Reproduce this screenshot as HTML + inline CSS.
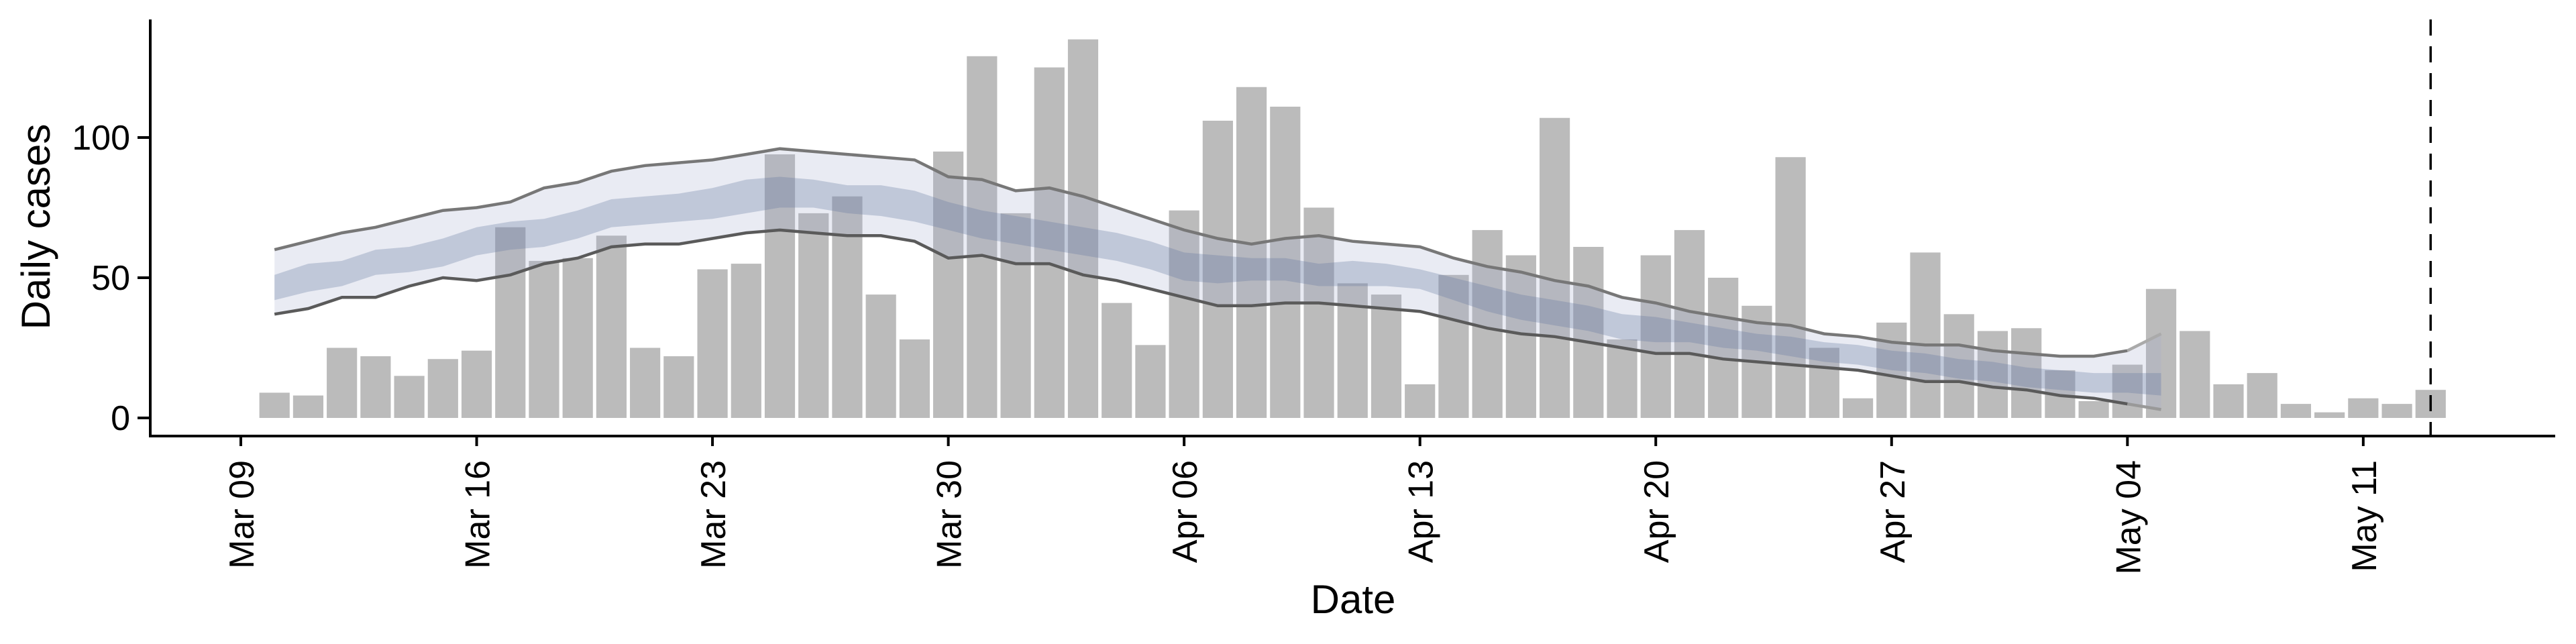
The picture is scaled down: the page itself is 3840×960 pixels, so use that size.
<!DOCTYPE html>
<html><head><meta charset="utf-8">
<style>
html,body{margin:0;padding:0;background:#fff;}
svg{display:block;font-family:"Liberation Sans",Arial,sans-serif;}
</style></head>
<body>
<svg id="chart" width="3840" height="960" viewBox="0 0 3840 960" xmlns="http://www.w3.org/2000/svg"></svg>
<script>
// ---- data ----
const barStartDay = 1; // Mar 10 (day 0 = Mar 09)
const dailyCases = [9,8,25,22,15,21,24,68,56,57,65,25,22,53,55,94,73,79,44,28,95,129,
  73,125,135,41,26,74,106,118,111,75,48,44,12,51,67,58,107,61,28,58,67,50,40,93,25,7,34,59,37,31,
  32,17,6,19,46,31,12,16,5,2,7,5,10];
const bandStartDay = 1;
const outerUpper = [60,63,66,68,71,74,75,77,82,84,88,90,91,92,94,96,95,94,93,92,86,85,
  81,82,79,75,71,67,64,62,64,65,63,62,61,57,54,52,49,47,43,41,38,36,34,33,30,29,27,26,26,24,
  23,22,22,24,30];
const outerLower = [37,39,43,43,47,50,49,51,55,57,61,62,62,64,66,67,66,65,65,63,57,58,
  55,55,51,49,46,43,40,40,41,41,40,39,38,35,32,30,29,27,25,23,23,21,20,19,18,17,15,13,13,11,
  10,8,7,5,3];
const innerUpper = [51,55,56,60,61,64,68,70,71,74,78,79,80,82,85,86,85,83,83,81,77,74,
  72,70,68,66,63,59,58,57,57,55,56,55,53,50,47,44,42,40,37,36,34,32,30,29,27,26,24,23,21,20,
  18,17,16,16,16];
const innerLower = [42,45,47,51,52,54,58,60,61,64,68,69,70,71,73,75,75,73,72,70,67,64,
  62,60,58,56,53,49,48,49,49,47,47,47,46,42,38,35,33,31,28,27,27,25,24,22,20,19,17,16,14,13,
  11,10,9,9,8];
const xTickDays = [0,7,14,21,28,35,42,49,56,63];
const xTickLabels = ["Mar 09","Mar 16","Mar 23","Mar 30","Apr 06","Apr 13","Apr 20","Apr 27","May 04","May 11"];
const yTicks = [0,50,100];
const cutoffDay = 65;

// ---- scales ----
const X0 = 359, DX = 50.22;
const Y0 = 623, DY = 4.18;
const x = d => X0 + d*DX;
const y = v => Y0 - v*DY;
const NS = "http://www.w3.org/2000/svg";
const svg = document.getElementById('chart');
function mk(tag, attrs, parent){
  const e = document.createElementNS(NS, tag);
  for (const k in attrs) e.setAttribute(k, attrs[k]);
  (parent||svg).appendChild(e);
  return e;
}

// bars
const gBars = mk('g', {});


dailyCases.forEach((v,i)=>{
  const d = barStartDay + i;
  const w = DX*0.9;
  const r = mk('rect', {x: x(d)-w/2, y: y(v), width: w, height: y(0)-y(v), fill:'#bbbbbb'}, gBars);
  
  
});

function bandPath(hi, lo){
  let p = '';
  hi.forEach((v,i)=>{ p += (i?'L':'M') + x(bandStartDay+i).toFixed(1) + ',' + y(v).toFixed(1); });
  for (let i=lo.length-1;i>=0;i--) p += 'L' + x(bandStartDay+i).toFixed(1) + ',' + y(lo[i]).toFixed(1);
  return p + 'Z';
}
function linePath(arr, n){
  return arr.slice(0, n).map((v,i)=>(i?'L':'M') + x(bandStartDay+i).toFixed(1) + ',' + y(v).toFixed(1)).join('');
}
function tailPath(arr){
  const n = arr.length;
  return 'M' + x(bandStartDay+n-2).toFixed(1) + ',' + y(arr[n-2]).toFixed(1) + 'L' + x(bandStartDay+n-1).toFixed(1) + ',' + y(arr[n-1]).toFixed(1);
}
const outer = mk('path', {d: bandPath(outerUpper, outerLower), fill:'rgba(165,172,205,0.24)'});


const inner = mk('path', {d: bandPath(innerUpper, innerLower), fill:'rgba(100,120,160,0.30)'});


const up = mk('path', {d: linePath(outerUpper, outerUpper.length-1), fill:'none', stroke:'#777', 'stroke-width':4.5});


const upT = mk('path', {d: tailPath(outerUpper), fill:'none', stroke:'#aaa', 'stroke-width':4.5});


const lo = mk('path', {d: linePath(outerLower, outerLower.length-1), fill:'none', stroke:'#5a5a5a', 'stroke-width':4.5});


const loT = mk('path', {d: tailPath(outerLower), fill:'none', stroke:'#999', 'stroke-width':4.5});



// cutoff line
const cut = mk('line', {x1:x(cutoffDay), x2:x(cutoffDay), y1:29, y2:650, stroke:'#000', 'stroke-width':3.5, 'stroke-dasharray':'24 16'});



// axes
const yAxis = mk('line', {x1:224, x2:224, y1:29, y2:652, stroke:'#000', 'stroke-width':4});


const xAxis = mk('line', {x1:222, x2:3809, y1:650, y2:650, stroke:'#000', 'stroke-width':4});



yTicks.forEach(v=>{
  const t = mk('line', {x1:205, x2:224, y1:y(v), y2:y(v), stroke:'#000', 'stroke-width':4});
  
  
  const l = mk('text', {x:194, y:y(v)+18, 'text-anchor':'end', 'font-size':52, fill:'#000'});
  l.textContent = v;
  
  
});
xTickDays.forEach((d,i)=>{
  const t = mk('line', {x1:x(d), x2:x(d), y1:650, y2:665, stroke:'#000', 'stroke-width':4});
  
  
  const l = mk('text', {x:0, y:0, 'text-anchor':'end', 'font-size':52, fill:'#000',
    transform:'translate(' + (x(d)+19) + ',686) rotate(-90)'});
  l.textContent = xTickLabels[i];
  
  
});

const yt = mk('text', {x:0, y:0, 'text-anchor':'middle', 'font-size':60, fill:'#000', transform:'translate(74,338) rotate(-90)'});
yt.textContent = 'Daily cases';


const xt = mk('text', {x:2017, y:914, 'text-anchor':'middle', 'font-size':60, fill:'#000'});
xt.textContent = 'Date';


</script>
</body></html>
